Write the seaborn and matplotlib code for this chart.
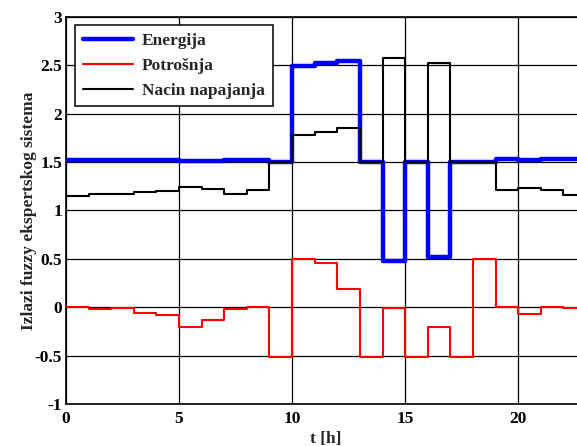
"""Izlazi fuzzy ekspertskog sistema - stepenasti prikaz po satima."""
import matplotlib
matplotlib.use("Agg")
import matplotlib.pyplot as plt
import seaborn as sns

# --- data ---
hours = [0, 1, 2, 3, 4, 5, 6, 7, 8, 9, 10, 11, 12, 13, 14, 15, 16, 17, 18, 19, 20, 21, 22, 23]

energija = [1.52, 1.52, 1.52, 1.52, 1.52, 1.51, 1.51, 1.52, 1.52, 1.50, 2.49, 2.52,
            2.54, 1.50, 0.48, 1.50, 0.52, 1.50, 1.50, 1.53, 1.515, 1.53, 1.53, 1.53]

potrosnja = [0.0, -0.015, -0.007, -0.06, -0.08, -0.20, -0.13, -0.015, 0.0, -0.51, 0.50, 0.46,
             0.19, -0.51, -0.01, -0.51, -0.20, -0.51, 0.50, 0.0, -0.075, 0.0, -0.01, -0.01]

nacin = [1.15, 1.17, 1.17, 1.19, 1.20, 1.24, 1.22, 1.17, 1.21, 1.50, 1.78, 1.81,
         1.85, 1.50, 2.57, 1.50, 2.52, 1.50, 1.50, 1.21, 1.23, 1.21, 1.16, 1.16]

x_ticks = [0, 5, 10, 15, 20]
y_ticks = [-1, -0.5, 0, 0.5, 1, 1.5, 2, 2.5, 3]
y_tick_labels = ["-1", "-0.5", "0", "0.5", "1", "1.5", "2", "2.5", "3"]

sns.set_theme(style="white")
plt.rcParams["font.family"] = ["Liberation Serif", "DejaVu Serif"]
plt.rcParams["font.weight"] = "bold"
plt.rcParams["axes.labelweight"] = "bold"

fig = plt.figure(figsize=(5.77, 4.46), dpi=100)
# axes runs a little past the right edge, like the cropped original
ax = fig.add_axes([0.1144, 0.0942, 0.9012, 0.8684])

sns.lineplot(x=hours, y=energija, ax=ax, color="#0000ff", lw=3.2,
             drawstyle="steps-post", label="Energija", zorder=3)
sns.lineplot(x=hours, y=potrosnja, ax=ax, color="#ff0000", lw=1.5,
             drawstyle="steps-post", label="Potrošnja", zorder=4)
sns.lineplot(x=hours, y=nacin, ax=ax, color="black", lw=1.5,
             drawstyle="steps-post", label="Nacin napajanja", zorder=5)

ax.set_xlim(0, 23)
ax.set_ylim(-1, 3)
ax.set_xticks(x_ticks)
ax.set_xticklabels([str(t) for t in x_ticks])
ax.set_yticks(y_ticks)
ax.set_yticklabels(y_tick_labels)

# MATLAB-like solid black grid
ax.grid(True, color="black", lw=0.9, ls="-", zorder=1)
ax.set_axisbelow(True)
for side in ax.spines.values():
    side.set_color("black")
    side.set_linewidth(1.2)

ax.tick_params(axis="both", direction="in", length=4, width=0.9, labelsize=12.5,
               colors="black")
ax.tick_params(axis="x", pad=5)
ax.tick_params(axis="y", pad=3)
for lbl in ax.get_xticklabels() + ax.get_yticklabels():
    lbl.set_fontweight("bold")

ax.set_xlabel("t [h]", fontsize=12.5, fontweight="bold", labelpad=3)
ax.set_ylabel("Izlazi fuzzy ekspertskog sistema", fontsize=12.5, fontweight="bold", labelpad=-2)

leg = ax.legend(loc="upper left", bbox_to_anchor=(0.0173, 0.9786), borderaxespad=0,
                fancybox=False, framealpha=1, edgecolor="black", handlelength=2.9,
                labelspacing=0.5, borderpad=0.45, handletextpad=0.5,
                prop={"size": 12.5, "weight": "bold"})
leg.get_frame().set_linewidth(1.1)

fig.savefig("out.png", dpi=100)
